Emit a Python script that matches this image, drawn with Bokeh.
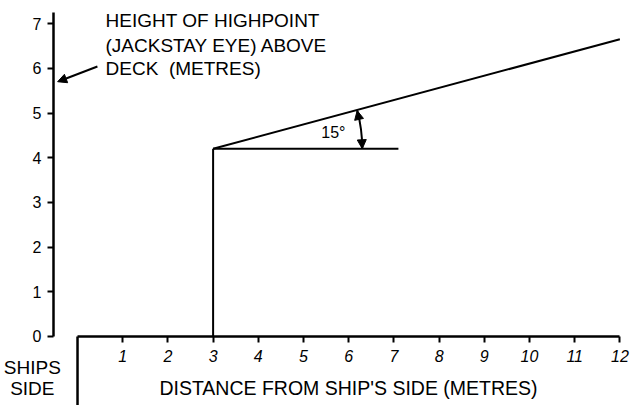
import numpy as np
from bokeh.plotting import figure
from bokeh.models import (LinearAxis, FixedTicker, Range1d, Label, Arrow,
                          NormalHead)
from bokeh.embed import file_html
from bokeh.resources import INLINE

# ---- data ----
x_ticks = [1, 2, 3, 4, 5, 6, 7, 8, 9, 10, 11, 12]
y_ticks = [0, 1, 2, 3, 4, 5, 6, 7]
x_label = "DISTANCE FROM SHIP'S SIDE (METRES)"
y_label_lines = ["HEIGHT OF HIGHPOINT", "(JACKSTAY EYE) ABOVE", "DECK\u00a0 (METRES)"]
side_lines = ["SHIPS", "SIDE"]

mast_x = [3, 3]
mast_y = [0, 4.2]
level_x = [3, 7.1]
level_y = [4.2, 4.2]
jackstay_x = [3, 12]
jackstay_y = [4.2, 6.65]
side_x = [0, 0]
side_y = [0, -1.6]
angle_deg = 15
angle_radius = 3.3
angle_text = "15°"

FONT = "Liberation Sans"

# scale: ~45.2 px per metre horizontally, 44.7 vertically
x_start, x_end = -1.704, 12.257
y_start, y_end = -1.544, 7.517
yaxis_at = -0.531

p = figure(width=631, height=405, output_backend="svg", toolbar_location=None,
           x_range=Range1d(x_start, x_end), y_range=Range1d(y_start, y_end),
           x_axis_type=None, y_axis_type=None,
           min_border_left=0, min_border_right=0, min_border_top=0,
           min_border_bottom=0)
p.outline_line_color = None
p.background_fill_color = "white"
p.border_fill_color = "white"

yax = LinearAxis(ticker=FixedTicker(ticks=y_ticks), bounds=(0, 7.25),
                 fixed_location=yaxis_at)
yax.axis_line_width = 2.5
yax.axis_line_color = "black"
yax.major_tick_line_width = 2
yax.major_tick_out = 6
yax.major_tick_in = 0
yax.minor_tick_line_color = None
yax.major_label_standoff = 6
yax.major_label_text_font = FONT
yax.major_label_text_font_size = "16px"
yax.major_label_text_color = "black"
p.add_layout(yax, "left")

xax = LinearAxis(ticker=FixedTicker(ticks=x_ticks), bounds=(0, 12),
                 axis_label=x_label, fixed_location=0)
xax.axis_line_width = 2.5
xax.axis_line_color = "black"
xax.major_tick_line_width = 2
xax.major_tick_out = 6
xax.major_tick_in = 0
xax.minor_tick_line_color = None
xax.major_label_standoff = 8
xax.major_label_text_font = FONT
xax.major_label_text_font_size = "16px"
xax.major_label_text_font_style = "italic"
xax.major_label_text_color = "black"
xax.axis_label_standoff = 11
xax.axis_label_text_font = FONT
xax.axis_label_text_font_size = "19.5px"
xax.axis_label_text_font_style = "normal"
xax.axis_label_text_color = "black"
p.add_layout(xax, "below")

# lines
p.line(mast_x, mast_y, line_color="black", line_width=2)
p.line(level_x, level_y, line_color="black", line_width=2)
p.line(jackstay_x, jackstay_y, line_color="black", line_width=2)
p.line(side_x, side_y, line_color="black", line_width=2.5)

# angle arc with arrowheads
a = np.deg2rad(angle_deg)
cx, cy = mast_x[1], mast_y[1]
p.arc(x=[cx], y=[cy], radius=angle_radius, start_angle=0,
      end_angle=a, line_color="black", line_width=2)
for a_from, a_to in [(a * 0.6, a), (a * 0.4, 0.0)]:
    p.add_layout(Arrow(end=NormalHead(size=9, fill_color="black", line_color="black"),
                       x_start=cx + angle_radius * np.cos(a_from),
                       y_start=cy + angle_radius * np.sin(a_from),
                       x_end=cx + angle_radius * np.cos(a_to),
                       y_end=cy + angle_radius * np.sin(a_to),
                       line_width=0, line_alpha=0))
p.add_layout(Label(x=5.66, y=4.56, text=angle_text, text_font=FONT,
                   text_font_size="16px", text_align="center",
                   text_baseline="middle", text_color="black"))

# y-axis description with pointer
for i, t in enumerate(y_label_lines):
    p.add_layout(Label(x=0.62, y=[7.07, 6.52, 6.0][i], text=t, text_font=FONT,
                       text_font_size="19px", text_baseline="middle",
                       text_color="black"))
p.add_layout(Arrow(end=NormalHead(size=9, fill_color="black", line_color="black"),
                   x_start=0.44, y_start=6.04, x_end=-0.44, y_end=5.70,
                   line_width=2, line_color="black"))

# ship's side text
for i, t in enumerate(side_lines):
    p.add_layout(Label(x=-1.0, y=[-0.69, -1.16][i], text=t, text_font=FONT,
                       text_font_size="19px", text_align="center",
                       text_baseline="middle", text_color="black"))

open("out.html", "w").write(file_html(p, INLINE))
